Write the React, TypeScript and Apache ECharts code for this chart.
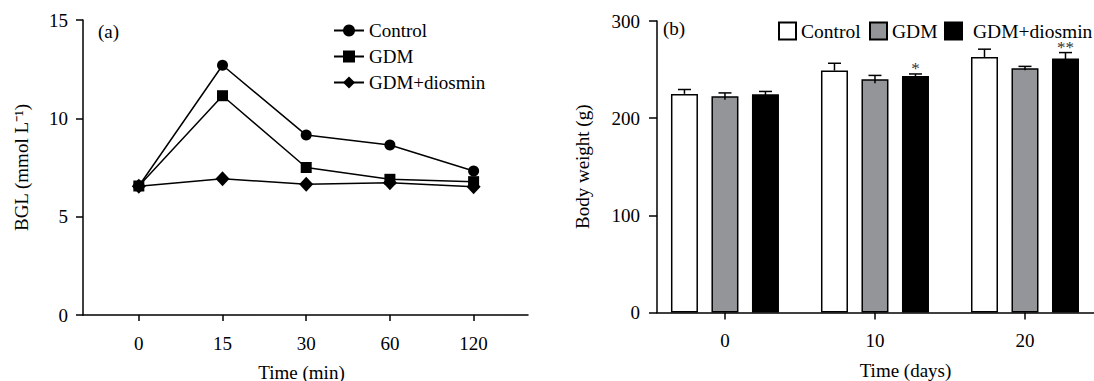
import React, { useEffect, useRef } from "react";
import * as echarts from "echarts";

// Panel (a): blood glucose level over time
const timeLabels = ["0", "15", "30", "60", "120"];
const bglControl = [6.56, 12.7, 9.15, 8.64, 7.32];
const bglGdm = [6.56, 11.15, 7.5, 6.9, 6.78];
const bglDiosmin = [6.55, 6.93, 6.65, 6.72, 6.52];

// Panel (b): body weight by day
const dayLabels = ["0", "10", "20"];
const bwControl = [225, 249, 263];
const bwControlErr = [4.5, 7.5, 8];
const bwGdm = [222.5, 240, 251.3];
const bwGdmErr = [3.5, 4, 2];
const bwDiosmin = [224.5, 243.5, 261.5];
const bwDiosminErr = [3, 2, 6];
const bwSignificance = ["", "*", "**"];

const groupNames = ["Control", "GDM", "GDM+diosmin"];
const barFills = ["#ffffff", "#939598", "#000000"];

const FONT = "'Liberation Serif', 'Times New Roman', serif";
const FS = 19;

const textBase = { color: "#000", fontFamily: FONT, fontSize: FS };
const axisLineStyle = { onZero: false, lineStyle: { color: "#000", width: 1.5 } };

function toPoints(values: number[]) {
  return values.map((v, i) => [i, v]);
}

export default function App() {
  const ref = useRef<HTMLDivElement>(null);

  useEffect(() => {
    document.body.style.margin = "0";
    if (!ref.current) return;
    const chart = echarts.init(ref.current, undefined, { renderer: "svg" });

    const bwSeries = [bwControl, bwGdm, bwDiosmin];
    const bwErrs = [bwControlErr, bwGdmErr, bwDiosminErr];
    const barStep = 40.5; // px between neighbouring bar centres in a group
    const barW = 27;

    const barSeries = bwSeries.map((vals, k) => ({
      type: "bar",
      name: "bw:" + groupNames[k],
      xAxisIndex: 1,
      yAxisIndex: 1,
      barWidth: barW,
      barGap: "50%",
      itemStyle: { color: barFills[k], borderColor: "#000", borderWidth: 1.5 },
      data: toPoints(vals),
      z: 2,
    }));

    // one row per bar: [day index, lower end, upper end, group k]
    const errRows: number[][] = [];
    bwSeries.forEach((vals, k) => {
      vals.forEach((v, i) => {
        const e = bwErrs[k][i];
        errRows.push([i, k === 0 ? v : v - e, v + e, k]);
      });
    });

    const errorSeries = {
      type: "custom",
      name: "errors",
      xAxisIndex: 1,
      yAxisIndex: 1,
      z: 5,
      silent: true,
      encode: { x: 0, y: [1, 2] },
      data: errRows,
      renderItem: (params: any, api: any) => {
        const i = api.value(0);
        const lo = api.value(1);
        const hi = api.value(2);
        const k = api.value(3);
        const top = api.coord([i, hi]);
        const bottom = api.coord([i, lo]);
        const cx = top[0] + (k - 1) * barStep;
        const children: any[] = [
          {
            type: "line",
            shape: { x1: cx, y1: bottom[1], x2: cx, y2: top[1] },
            style: { stroke: "#000", lineWidth: 1.5 },
          },
          {
            type: "line",
            shape: { x1: cx - 6.5, y1: top[1], x2: cx + 6.5, y2: top[1] },
            style: { stroke: "#000", lineWidth: 1.5 },
          },
        ];
        if (k === 2 && bwSignificance[i]) {
          children.push({
            type: "text",
            x: cx,
            y: top[1] - 5,
            style: {
              text: bwSignificance[i],
              fill: "#333",
              fontFamily: FONT,
              fontSize: 17,
              lineHeight: 6,
              align: "center",
              verticalAlign: "middle",
            },
          });
        }
        return { type: "group", children };
      },
    };

    const barLegend = (k: number, left: number, textPad: number) => ({
      show: true,
      left,
      top: 21,
      padding: 0,
      itemWidth: 17,
      itemHeight: 17,
      icon: "rect",
      selectedMode: false,
      data: ["bw:" + groupNames[k]],
      formatter: (name: string) => name.replace("bw:", ""),
      textStyle: { ...textBase, fontSize: 19.5, lineHeight: 17, padding: [0, 0, 0, textPad] },
    });

    chart.setOption({
      animation: false,
      backgroundColor: "#fff",
      textStyle: { fontFamily: FONT },
      grid: [
        { left: 83, top: 20, width: 445, height: 295, outerBoundsMode: "none" },
        { left: 657, top: 21, width: 437, height: 291.5, outerBoundsMode: "none" },
      ],
      legend: [
        {
          left: 333,
          top: 21,
          padding: 0,
          orient: "vertical",
          itemWidth: 30,
          itemHeight: 15,
          itemGap: 7,
          selectedMode: false,
          data: groupNames,
          textStyle: { ...textBase },
        },
        barLegend(0, 778, 0),
        barLegend(1, 869, 0),
        barLegend(2, 944, 6),
      ],
      xAxis: [
        {
          type: "value",
          gridIndex: 0,
          min: -0.667,
          max: 4.65,
          splitLine: { show: false },
          axisLine: axisLineStyle,
          axisTick: { length: 6, lineStyle: { color: "#000", width: 1.5 }, customValues: [0, 1, 2, 3, 4] },
          axisLabel: {
            ...textBase,
            margin: 19,
            customValues: [0, 1, 2, 3, 4],
            formatter: (v: number) => timeLabels[Math.round(v)] ?? "",
          },
          name: "Time (min)",
          nameLocation: "middle",
          nameGap: 48,
          nameTextStyle: { ...textBase, padding: [0, 0, 0, -8] },
        },
        {
          type: "value",
          gridIndex: 1,
          min: -0.453,
          max: 2.46,
          splitLine: { show: false },
          axisLine: axisLineStyle,
          axisTick: { length: 7, lineStyle: { color: "#000", width: 1.5 }, customValues: [0, 1, 2] },
          axisLabel: {
            ...textBase,
            margin: 18,
            customValues: [0, 1, 2],
            formatter: (v: number) => dayLabels[Math.round(v)] ?? "",
          },
          name: "Time (days)",
          nameLocation: "middle",
          nameGap: 48,
          nameTextStyle: { ...textBase, padding: [0, 0, 0, 60] },
        },
      ],
      yAxis: [
        {
          type: "value",
          gridIndex: 0,
          min: 0,
          max: 15,
          interval: 5,
          splitLine: { show: false },
          axisLine: { show: true, ...axisLineStyle },
          axisTick: { show: true, length: 7, lineStyle: { color: "#000", width: 1.5 } },
          axisLabel: { ...textBase, margin: 15 },
          name: "BGL (mmol L\u207B\u00B9)",
          nameLocation: "middle",
          nameRotate: 90,
          nameGap: 52,
          nameTextStyle: { ...textBase },
        },
        {
          type: "value",
          gridIndex: 1,
          min: 0,
          max: 300,
          interval: 100,
          splitLine: { show: false },
          axisLine: { show: true, ...axisLineStyle },
          axisTick: { show: true, length: 8, lineStyle: { color: "#000", width: 1.5 } },
          axisLabel: { ...textBase, margin: 17 },
          name: "Body weight (g)",
          nameLocation: "middle",
          nameRotate: 90,
          nameGap: 65,
          nameTextStyle: { ...textBase },
        },
      ],
      graphic: [
        { type: "text", left: 98, top: 22, style: { text: "(a)", fill: "#000", font: `${FS}px ${FONT}` } },
        { type: "text", left: 663, top: 19, style: { text: "(b)", fill: "#000", font: `${FS}px ${FONT}` } },
      ],
      series: [
        {
          type: "line",
          name: "Control",
          xAxisIndex: 0,
          yAxisIndex: 0,
          symbol: "circle",
          symbolSize: 11,
          lineStyle: { color: "#000", width: 1.5 },
          itemStyle: { color: "#000" },
          data: toPoints(bglControl),
        },
        {
          type: "line",
          name: "GDM",
          xAxisIndex: 0,
          yAxisIndex: 0,
          symbol: "rect",
          symbolSize: 11,
          lineStyle: { color: "#000", width: 1.5 },
          itemStyle: { color: "#000" },
          data: toPoints(bglGdm),
        },
        {
          type: "line",
          name: "GDM+diosmin",
          xAxisIndex: 0,
          yAxisIndex: 0,
          symbol: "diamond",
          symbolSize: [14, 15],
          lineStyle: { color: "#000", width: 1.5 },
          itemStyle: { color: "#000" },
          data: toPoints(bglDiosmin),
        },
        ...barSeries,
        errorSeries,
      ],
    });

    return () => chart.dispose();
  }, []);

  return <div ref={ref} style={{ width: 1094, height: 381 }} />;
}
